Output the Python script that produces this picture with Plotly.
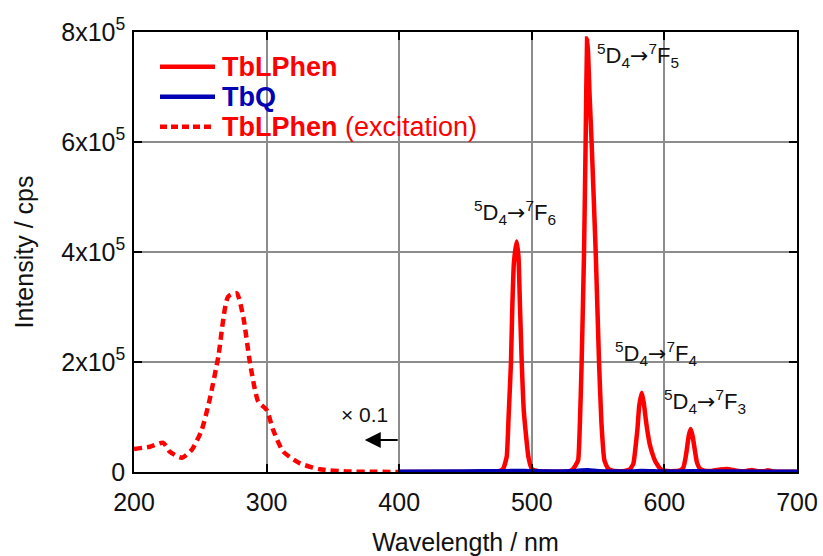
import plotly.graph_objects as go

# ---- data ----
exc_wl = [200, 212, 222, 227, 236, 243.5, 251, 257, 263.6, 271, 277.4, 282.4, 287.5, 293.7, 300, 305, 312.6, 325, 340, 360, 380, 400]
exc_int = [42000, 46000, 53000, 37000, 26000, 40000, 76000, 131000, 210000, 319000, 325000, 282000, 198000, 128000, 113000, 76000, 37000, 16000, 5000, 1000, 500, 0]

em_wl = [400, 420, 450, 470, 476, 478.5, 481.1, 482.5, 484.3, 485.3, 486.5, 488.6, 490, 491.1, 492.4, 494, 497.4, 500, 505,
         515, 525, 528, 531, 533, 535, 536.3, 537.6, 539.4, 540.6, 541.7, 542.5, 543.5, 545.1, 548.2, 550.7, 552.5, 554.7, 557, 560,
         565, 570, 574, 576.6, 578, 579.6, 581, 582.9, 584.5, 586, 587.1, 589, 591, 593, 596.7, 600,
         605, 612, 614.3, 615.5, 616.8, 618.3, 619.8, 621.3, 623, 624.5, 626.8, 630,
         636, 642, 647, 652, 657, 662, 666, 670, 675, 678, 682, 690, 700]
em_int = [0, 0, 0, 500, 2000, 6000, 28000, 100000, 200000, 300000, 380000, 419000, 390000, 300000, 200000, 110000, 28000, 6000, 1500,
          500, 500, 1000, 5000, 12000, 22000, 90000, 200000, 400000, 600000, 788000, 760000, 690000, 600000, 400000, 200000, 90000, 22000, 8000, 3000,
          1500, 2000, 5000, 15000, 40000, 76000, 120000, 144000, 125000, 95000, 76000, 50000, 33000, 20000, 6000, 2500,
          1500, 3000, 8000, 20000, 39000, 65000, 78000, 65000, 39000, 18000, 6000, 2500,
          2000, 4500, 5500, 3500, 1500, 2000, 3500, 1500, 1500, 3000, 1000, 500, 500]

tbq_wl = [400, 450, 480, 489, 500, 530, 542, 550, 575, 583, 600, 620, 650, 700]
tbq_int = [1000, 1500, 1800, 2500, 1800, 2000, 3500, 2000, 1500, 2500, 1200, 1800, 1200, 1000]

y_tickvals = [0, 200000, 400000, 600000, 800000]
y_ticktext = ["0", "2x10<sup>5</sup>", "4x10<sup>5</sup>", "6x10<sup>5</sup>", "8x10<sup>5</sup>"]
x_tickvals = [200, 300, 400, 500, 600, 700]

series_names = ["<b>TbLPhen</b>", "<b>TbQ</b>", "<b>TbLPhen</b> (excitation)"]
series_colors = ["#ff0000", "#0000b4", "#ff0000"]
series_dash = ["solid", "solid", "8px,5px"]

ARROW = '<span style="font-family:DejaVu Sans">\u2192</span>'
labels = [
    ("<sup>5</sup>D<sub>4</sub>" + ARROW + "<sup>7</sup>F<sub>6</sub>", 454.6, 471000),
    ("<sup>5</sup>D<sub>4</sub>" + ARROW + "<sup>7</sup>F<sub>5</sub>", 548.0, 758000),
    ("<sup>5</sup>D<sub>4</sub>" + ARROW + "<sup>7</sup>F<sub>4</sub>", 561.2, 216000),
    ("<sup>5</sup>D<sub>4</sub>" + ARROW + "<sup>7</sup>F<sub>3</sub>", 598.0, 128000),
]

FONT = "Liberation Sans, Arial, sans-serif"

fig = go.Figure()
fig.add_trace(go.Scatter(x=em_wl, y=em_int, mode="lines", name=series_names[0],
                         line=dict(color=series_colors[0], width=4.5, shape="spline", smoothing=0.4)))
fig.add_trace(go.Scatter(x=tbq_wl, y=tbq_int, mode="lines", name=series_names[1],
                         line=dict(color=series_colors[1], width=4, shape="spline", smoothing=0.6)))
fig.add_trace(go.Scatter(x=exc_wl, y=exc_int, mode="lines", name=series_names[2],
                         line=dict(color=series_colors[2], width=4.5, dash=series_dash[2], shape="spline", smoothing=0.6)))

axis_common = dict(showline=True, linecolor="black", linewidth=1.5, mirror="ticks",
                   ticks="inside", ticklen=8, tickwidth=1.5, tickcolor="black",
                   showgrid=True, gridcolor="#8c8c8c", gridwidth=1.5, zeroline=False,
                   automargin=False,
                   tickfont=dict(family=FONT, size=25, color="#111"))

fig.update_xaxes(range=[200, 700], tickvals=x_tickvals, ticklabelstandoff=7,
                 title=dict(text="Wavelength / nm", font=dict(family=FONT, size=25, color="#111"), standoff=20),
                 **axis_common)
fig.update_yaxes(range=[0, 800000], tickvals=y_tickvals, ticktext=y_ticktext, ticklabelstandoff=2,
                 title=dict(text="Intensity / cps", font=dict(family=FONT, size=25, color="#111"), standoff=21),
                 **axis_common)

for txt, xv, yv in labels:
    fig.add_annotation(x=xv, y=yv, text=txt, showarrow=False, xanchor="left", yanchor="middle",
                       font=dict(family=FONT, size=22, color="#111"))

fig.add_annotation(x=374, y=58000, ax=400, ay=58000, axref="x", ayref="y", xref="x", yref="y",
                   text="", showarrow=True, arrowhead=2, arrowsize=1.6, arrowwidth=2, arrowcolor="black")
fig.add_annotation(x=374, y=104000, text="\u00d7 0.1", showarrow=False,
                   font=dict(family=FONT, size=21, color="#111"))

# ---- legend (drawn manually to match compact spacing) ----
PW, PH = 663.0, 440.0
def px(xp):
    return (xp - 134) / PW
def py(yp):
    return (472 - yp) / PH

fig.add_shape(type="rect", xref="paper", yref="paper", x0=px(150), x1=px(490), y0=py(40), y1=py(147),
              fillcolor="white", line=dict(width=0), layer="below")
fig.add_shape(type="line", xref="x", yref="paper", x0=400, x1=400, y0=py(40), y1=py(147),
              line=dict(color="#c8c8c8", width=1.2), layer="below")
row_y = [66.7, 96.7, 126.7]
for i in range(3):
    fig.add_shape(type="line", xref="paper", yref="paper", x0=px(160), x1=px(215), y0=py(row_y[i]), y1=py(row_y[i]),
                  line=dict(color=series_colors[i], width=4.5, dash=("7px,4px" if series_dash[i] != "solid" else "solid")))
    fig.add_annotation(xref="paper", yref="paper", x=px(220), y=py(row_y[i]), text=series_names[i],
                       showarrow=False, xanchor="left", yanchor="middle",
                       font=dict(family=FONT, size=27, color=series_colors[i]))

fig.update_layout(
    width=823, height=556,
    margin=dict(l=134, r=26, t=32, b=84),
    plot_bgcolor="white", paper_bgcolor="white",
    showlegend=False,
)

fig.write_html(
    "out.html",
    config={"displayModeBar": False},
    post_script="document.body.style.margin='0';document.body.style.overflow='hidden';"
                "document.documentElement.style.overflow='hidden';",
)
